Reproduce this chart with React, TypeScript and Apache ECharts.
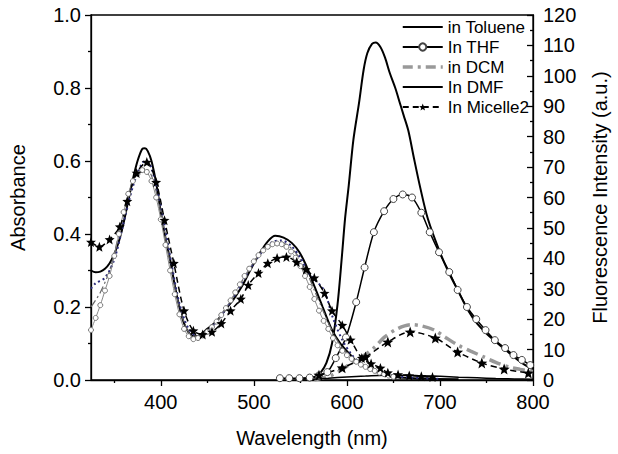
import React, { useEffect, useRef } from "react";
import * as echarts from "echarts";

const FONT = '"Liberation Sans", Arial, Helvetica, sans-serif';

const legendNames = ["in Toluene", "In THF", "in DCM", "In DMF", "In Micelle2"];
const legendLineOnly = ["in Toluene", "in DCM", "In DMF"];
const xMajorTicks = [400, 500, 600, 700, 800];
const xMinorTicks = [350, 450, 550, 650, 750];

// Fluorescence (right axis)
const tolueneFl: [number, number][] = [
  [545, 0], [552, 0.4], [560, 0.7], [567, 1.2], [572, 2.5], [578, 5.6], [584, 12], [590, 25], [595, 42],
  [598, 53], [602, 64], [607, 79], [613, 91], [618, 102], [622, 107.5], [627, 110.5], [631, 111],
  [636, 109.5], [641, 106], [646, 101], [652, 96], [657, 91], [661, 87], [666, 82], [672, 73], [679, 63],
  [687, 53], [700, 42], [710, 35], [720, 29], [730, 23], [740, 18.5], [750, 15.3], [760, 12.6],
  [770, 10], [780, 7.5], [790, 5.2], [800, 3.5],
];
const thfFl: [number, number][] = [
  [528, 0.6], [538, 0.6], [549, 0.6], [560, 0.8], [570, 1.5], [579, 2.6], [588, 7.2], [599, 14],
  [610, 25.6], [619, 37], [629, 48.6], [640, 55.5], [650, 59.5], [660, 61], [670, 60], [680, 55],
  [689, 48.6], [699, 42], [710, 35.5], [719, 29.6], [729, 24], [739, 20], [749, 16.4], [759, 13.1],
  [770, 10.5], [779, 8.2], [788, 6.6], [797, 4.9],
];
const dcmFl: [number, number][] = [
  [565, 0], [575, 0.8], [584, 1.6], [595, 3.5], [605, 5.6], [618, 8], [630, 10.8], [640, 14], [652, 16.5],
  [662, 17.8], [670, 18.2], [680, 17.8], [694, 16.4], [706, 14], [719, 11.5], [733, 9.5], [747, 7.6],
  [760, 5.8], [774, 4.3], [786, 3.5], [800, 2.8],
];
const dmfFl: [number, number][] = [
  [560, 0.2], [580, 0.6], [600, 1], [620, 1.3], [640, 1.6], [660, 1.6], [680, 1.4], [700, 1.2],
  [720, 0.9], [740, 0.7], [760, 0.5], [780, 0.35], [800, 0.25],
];
const micelleFl: [number, number][] = [
  [570, 1.6], [595, 4], [620, 7.6], [644, 12.5], [668, 15.8], [695, 13.8], [719, 9.2], [745, 5.6],
  [769, 3.6], [795, 2.3],
];

// Absorbance (left axis)
const tolueneAbs: [number, number][] = [
  [325, 0.3], [330, 0.295], [335, 0.297], [340, 0.305], [345, 0.32], [350, 0.345], [355, 0.38], [360, 0.43],
  [365, 0.49], [370, 0.55], [375, 0.6], [380, 0.633], [383, 0.635], [386, 0.627], [390, 0.6], [395, 0.54],
  [400, 0.46], [405, 0.39], [410, 0.33], [415, 0.26], [420, 0.2], [425, 0.155], [430, 0.13], [435, 0.12],
  [440, 0.121], [450, 0.14], [461, 0.164], [470, 0.195], [478, 0.22], [488, 0.26], [496, 0.3], [507, 0.35],
  [515, 0.38], [523, 0.395], [532, 0.39], [541, 0.375], [549, 0.35], [556, 0.315], [563, 0.27], [574, 0.2],
  [584, 0.137], [593, 0.1], [602, 0.074], [610, 0.052], [620, 0.036], [635, 0.02], [652, 0.008],
  [680, 0.004], [720, 0.002],
];
const thfAbs: [number, number][] = [
  [325, 0.137], [330, 0.17], [335, 0.205], [340, 0.245], [345, 0.285], [350, 0.34], [355, 0.4], [360, 0.46],
  [365, 0.51], [370, 0.545], [375, 0.565], [380, 0.575], [385, 0.57], [390, 0.545], [395, 0.5], [400, 0.44],
  [405, 0.37], [410, 0.3], [415, 0.235], [420, 0.18], [425, 0.14], [430, 0.12], [435, 0.112], [440, 0.115],
  [445, 0.122], [450, 0.132], [455, 0.145], [460, 0.16], [465, 0.178], [470, 0.197], [475, 0.218],
  [480, 0.24], [485, 0.262], [490, 0.285], [495, 0.305], [500, 0.325], [505, 0.342], [510, 0.355],
  [515, 0.365], [520, 0.372], [525, 0.374], [530, 0.372], [535, 0.365], [540, 0.352], [545, 0.335],
  [550, 0.312], [555, 0.285], [560, 0.255], [565, 0.222], [570, 0.19], [575, 0.162], [580, 0.14],
  [585, 0.115], [590, 0.095], [595, 0.08], [600, 0.068], [605, 0.058], [610, 0.05], [615, 0.042],
  [620, 0.036], [625, 0.03], [630, 0.025], [635, 0.02], [640, 0.016], [645, 0.012], [650, 0.009],
];
const dcmAbs: [number, number][] = [
  [325, 0.2], [335, 0.24], [345, 0.3], [355, 0.4], [365, 0.5], [375, 0.57], [383, 0.58], [390, 0.56],
  [400, 0.46], [410, 0.32], [420, 0.2], [430, 0.13], [440, 0.118], [450, 0.133], [460, 0.16], [470, 0.195],
  [480, 0.238], [490, 0.282], [500, 0.322], [510, 0.355], [520, 0.374], [528, 0.378], [536, 0.37],
  [546, 0.345], [556, 0.3], [566, 0.24], [576, 0.18], [586, 0.125], [596, 0.085], [610, 0.05],
  [625, 0.03], [640, 0.017], [660, 0.008],
];
const dmfAbs: [number, number][] = [
  [325, 0.25], [330, 0.265], [340, 0.28], [350, 0.33], [360, 0.43], [370, 0.53], [380, 0.595], [385, 0.6],
  [390, 0.58], [400, 0.48], [410, 0.34], [420, 0.21], [430, 0.14], [440, 0.12], [450, 0.135], [460, 0.16],
  [470, 0.195], [480, 0.235], [490, 0.28], [500, 0.32], [510, 0.355], [520, 0.378], [530, 0.382],
  [540, 0.368], [550, 0.335], [560, 0.29], [575, 0.247], [585, 0.17], [595, 0.11], [605, 0.07],
  [615, 0.045], [625, 0.028], [640, 0.015], [660, 0.008], [700, 0.003],
];
const micelleAbs: [number, number][] = [
  [325, 0.378], [334, 0.365], [345, 0.385], [356, 0.42], [364, 0.49], [374, 0.567], [385, 0.597],
  [395, 0.542], [404, 0.438], [414, 0.32], [425, 0.19], [435, 0.135], [445, 0.125], [455, 0.132],
  [465, 0.155], [475, 0.19], [486, 0.222], [494, 0.26], [505, 0.293], [515, 0.32], [525, 0.334],
  [535, 0.337], [546, 0.323], [556, 0.303], [565, 0.28], [576, 0.238], [584, 0.19], [595, 0.15],
  [604, 0.11], [616, 0.06], [626, 0.045], [636, 0.033], [644, 0.02], [655, 0.015], [667, 0.012],
  [680, 0.01], [692, 0.008],
];

const STAR = "path://M12,1 L14.9,8.6 L23,9 L16.7,14.1 L18.8,22 L12,17.5 L5.2,22 L7.3,14.1 L1,9 L9.1,8.6 Z";

export default function App() {
  const ref = useRef<HTMLDivElement>(null);
  useEffect(() => {
    if (!ref.current) return;
    const chart = echarts.init(ref.current, null, { renderer: "svg" });
    const axisLine = { show: true, lineStyle: { color: "#000", width: 1.3 } };
    const tickStyle = { color: "#000", width: 1.3 };
    const labelStyle = { color: "#000", fontSize: 20, fontFamily: FONT };
    const nameStyle = { color: "#000", fontSize: 20, fontFamily: FONT };
    chart.setOption({
      animation: false,
      backgroundColor: "#fff",
      grid: { left: 88, right: 81, top: 15, bottom: 74, show: true, borderColor: "#000", borderWidth: 1.3 },
      legend: {
        data: legendNames.map((n) => {
          if (n === "in DCM") {
            return {
              name: n,
              itemStyle: { opacity: 0 },
              lineStyle: { color: "#999", width: 3.5, type: [10, 5, 3, 5] },
            };
          }
          return legendLineOnly.includes(n) ? { name: n, itemStyle: { opacity: 0 } } : { name: n };
        }),
        orient: "vertical",
        left: 401,
        top: 18,
        padding: 0,
        itemGap: 2,
        itemWidth: 40,
        itemHeight: 9,
        textStyle: { color: "#000", fontSize: 17, fontFamily: FONT, lineHeight: 18 },
      },
      xAxis: [
        {
          type: "value",
          min: 325,
          max: 800,
          position: "bottom",
          axisLine,
          axisTick: { show: true, inside: false, length: 6, customValues: xMajorTicks, lineStyle: tickStyle },
          axisLabel: { ...labelStyle, customValues: xMajorTicks, margin: 12 },
          splitLine: { show: false },
          name: "Wavelength (nm)",
          nameLocation: "middle",
          nameGap: 48,
          nameTextStyle: nameStyle,
        },
        {
          type: "value",
          min: 325,
          max: 800,
          position: "bottom",
          axisLine: { show: false },
          axisTick: { show: true, inside: false, length: 3, customValues: xMinorTicks, lineStyle: tickStyle },
          axisLabel: { show: false },
          splitLine: { show: false },
        },
      ],
      yAxis: [
        {
          type: "value",
          min: 0,
          max: 1,
          interval: 0.2,
          position: "left",
          axisLine,
          axisTick: { show: true, inside: false, length: 6, lineStyle: tickStyle },
          minorTick: { show: true, splitNumber: 2, length: 3, lineStyle: tickStyle },
          axisLabel: { ...labelStyle, margin: 10, formatter: (v: number) => v.toFixed(1) },
          splitLine: { show: false },
          name: "Absorbance",
          nameLocation: "middle",
          nameRotate: 90,
          nameGap: 63,
          nameTextStyle: nameStyle,
        },
        {
          type: "value",
          min: 0,
          max: 120,
          interval: 10,
          position: "right",
          axisLine,
          axisTick: { show: true, inside: true, length: 6, lineStyle: tickStyle },
          minorTick: { show: true, splitNumber: 2, length: 3, lineStyle: tickStyle },
          axisLabel: { ...labelStyle, margin: 10 },
          splitLine: { show: false },
          name: "Fluorescence Intensity (a.u.)",
          nameLocation: "middle",
          nameRotate: 90,
          nameGap: 57,
          nameTextStyle: nameStyle,
        },
      ],
      series: [
        {
          name: "in Toluene", type: "line", yAxisIndex: 1, data: tolueneFl, smooth: 0.3, showSymbol: false,
          symbol: "none", lineStyle: { color: "#000", width: 2 }, itemStyle: { color: "#000" },
        },
        {
          name: "In THF", type: "line", yAxisIndex: 1, data: thfFl, smooth: 0.3, symbol: "circle", symbolSize: 7,
          lineStyle: { color: "#000", width: 1.5 }, itemStyle: { color: "#fff", borderColor: "#444", borderWidth: 1 },
        },
        {
          name: "in DCM", type: "line", yAxisIndex: 1, data: dcmFl, smooth: 0.3, symbol: "none",
          lineStyle: { color: "#999", width: 3.5, type: [12, 5, 3, 5] }, itemStyle: { color: "#999" },
        },
        {
          name: "In DMF", type: "line", yAxisIndex: 1, data: dmfFl, smooth: 0.3, symbol: "none",
          lineStyle: { color: "#000", width: 1.5 }, itemStyle: { color: "#000" },
        },
        {
          name: "In Micelle2", type: "line", yAxisIndex: 1, data: micelleFl, smooth: 0.3, symbol: STAR, symbolSize: 11,
          lineStyle: { color: "#000", width: 1.5, type: [6, 4] }, itemStyle: { color: "#000" },
        },
        {
          name: "in Toluene", type: "line", yAxisIndex: 0, data: tolueneAbs, smooth: 0.3, symbol: "none",
          lineStyle: { color: "#000", width: 2 },
        },
        {
          name: "in DCM", type: "line", yAxisIndex: 0, data: dcmAbs, smooth: 0.3, symbol: "none",
          lineStyle: { color: "#666", width: 1.2, type: [8, 3, 2, 3] },
        },
        {
          name: "In DMF", type: "line", yAxisIndex: 0, data: dmfAbs, smooth: 0.3, symbol: "none",
          lineStyle: { color: "#2a2a7a", width: 2, type: [2, 3] },
        },
        {
          name: "In THF", type: "line", yAxisIndex: 0, data: thfAbs, smooth: 0.3, symbol: "circle", symbolSize: 5,
          lineStyle: { color: "#888", width: 1 }, itemStyle: { color: "#fff", borderColor: "#777", borderWidth: 1 },
        },
        {
          name: "In Micelle2", type: "line", yAxisIndex: 0, data: micelleAbs, smooth: 0.3, symbol: STAR, symbolSize: 10,
          lineStyle: { color: "#000", width: 1.5, type: [6, 4] }, itemStyle: { color: "#000" },
        },
      ],
    });
    return () => chart.dispose();
  }, []);
  return <div ref={ref} style={{ position: "fixed", left: 0, top: 0, width: 618, height: 454 }} />;
}
